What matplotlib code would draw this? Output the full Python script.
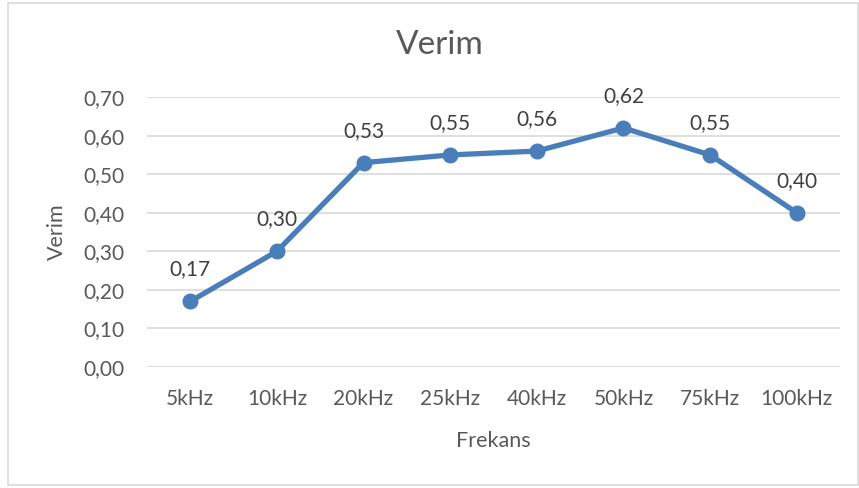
import matplotlib.pyplot as plt
from matplotlib.patches import Rectangle

categories = ['5kHz', '10kHz', '20kHz', '25kHz', '40kHz', '50kHz', '75kHz', '100kHz']
verim = [0.17, 0.30, 0.53, 0.55, 0.56, 0.62, 0.55, 0.40]

plt.rcParams['font.family'] = ['Lato', 'DejaVu Sans']
text_color = '#595959'
line_color = '#4A7EBB'

fig = plt.figure(figsize=(8.59, 4.88), dpi=100)
ax = fig.add_axes([0.171, 0.248, 0.807, 0.553])

x = range(len(categories))
ax.plot(x, verim, color=line_color, linewidth=3.8, marker='o', markersize=10.5,
        solid_capstyle='round', zorder=3)
for xi, v in zip(x, verim):
    ax.annotate(('%.2f' % v).replace('.', ','), (xi, v), xytext=(0, 23),
                textcoords='offset points', ha='center', va='center',
                fontsize=15, color='#404040')

ax.set_xlim(-0.5, len(categories) - 0.5)
ax.set_ylim(0, 0.70)
yt = [i / 10 for i in range(8)]
ax.set_yticks(yt)
ax.set_yticklabels([('%.2f' % t).replace('.', ',') for t in yt])
ax.set_xticks(list(x))
ax.set_xticklabels(categories)
ax.tick_params(axis='both', length=0, labelsize=15, colors=text_color)
ax.tick_params(axis='y', pad=16)
ax.tick_params(axis='x', pad=16)
ax.grid(axis='y', color='#d9d9d9', linewidth=1.2)
ax.set_axisbelow(True)
for s in ax.spines.values():
    s.set_visible(False)

ax.set_xlabel('Frekans', fontsize=15.5, color=text_color, labelpad=16)
ax.set_ylabel('Verim', fontsize=15.5, color=text_color, labelpad=12)
fig.text(0.512, 0.908, 'Verim', ha='center', va='center', fontsize=24, color=text_color)

fig.patches.append(Rectangle((8 / 859, 3 / 488), 850 / 859, 482 / 488, transform=fig.transFigure,
                             fill=False, edgecolor='#d9d9d9', linewidth=1.2))

fig.savefig('out.png', dpi=100)
